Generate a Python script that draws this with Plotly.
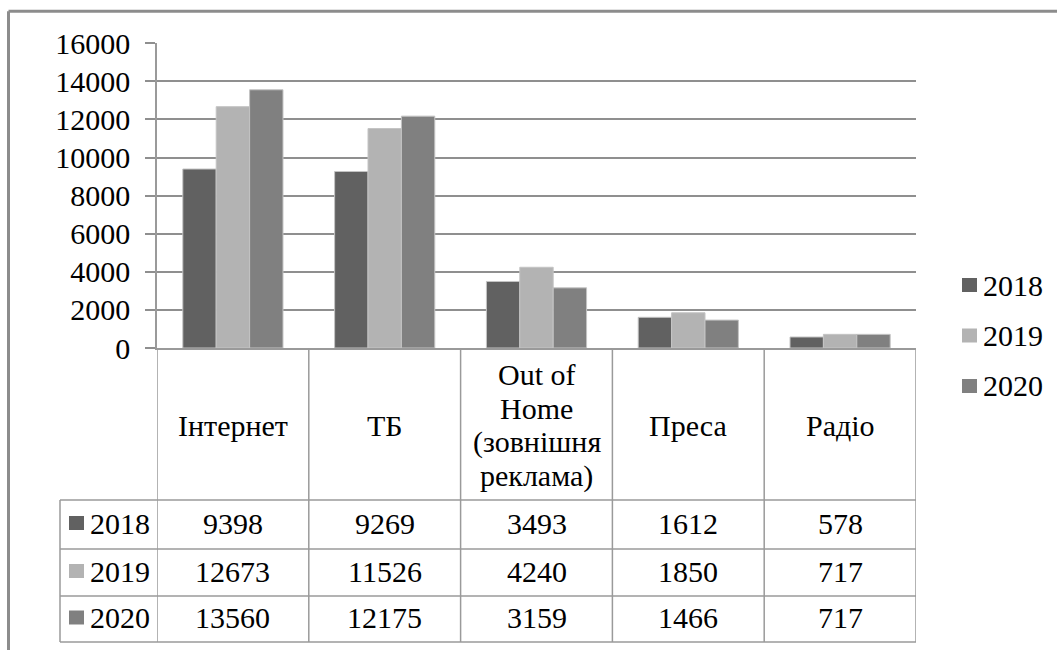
import plotly.graph_objects as go

# --- data -------------------------------------------------------------
categories = ["Інтернет", "ТБ", "Out of Home (зовнішня реклама)", "Преса", "Радіо"]
header_labels = ["Інтернет", "ТБ", "Out of<br>Home<br>(зовнішня<br>реклама)", "Преса", "Радіо"]
years = ["2018", "2019", "2020"]
values_2018 = [9398, 9269, 3493, 1612, 578]
values_2019 = [12673, 11526, 4240, 1850, 717]
values_2020 = [13560, 12175, 3159, 1466, 717]
series = [values_2018, values_2019, values_2020]
colors = ["#616161", "#b3b3b3", "#808080"]
y_ticks = [0, 2000, 4000, 6000, 8000, 10000, 12000, 14000, 16000]

# --- page geometry (pixels) --------------------------------------------
W, H = 1057, 650
FONT = "Liberation Serif"
FS = 30
LINE = "#9a9a9a"


def px(x):
    return x / W


def py(y):
    return 1 - y / H


def txt(size=FS):
    return dict(family=FONT, size=size, color="black")


plot_left, plot_right = 157, 916
plot_top, plot_bottom = 43.3, 348
header_bottom = 500
row_edges = [500, 549, 596, 642]
table_left = 60

fig = go.Figure()
for name, vals, col in zip(years, series, colors):
    fig.add_trace(go.Bar(
        x=categories, y=vals, name=name,
        marker=dict(color=col, line=dict(color="#c4c4c4", width=1)),
        showlegend=False,
    ))

shapes = []

# outer chart border (top and left edges visible)
shapes.append(dict(type="line", xref="paper", yref="paper",
                   x0=px(8.5), x1=px(W + 5), y0=py(11.3), y1=py(11.3),
                   line=dict(color="#8c8c8c", width=3)))
shapes.append(dict(type="line", xref="paper", yref="paper",
                   x0=px(8.5), x1=px(8.5), y0=py(11.3), y1=py(H + 5),
                   line=dict(color="#8c8c8c", width=3)))

# data table: vertical separators at category boundaries
for i in range(len(categories) + 1):
    shapes.append(dict(type="line", xref="x", yref="paper",
                       x0=i - 0.5, x1=i - 0.5, y0=py(plot_bottom), y1=py(row_edges[-1]),
                       line=dict(color=LINE, width=1.5)))
# legend-key column left edge
shapes.append(dict(type="line", xref="paper", yref="paper",
                   x0=px(table_left), x1=px(table_left), y0=py(row_edges[0]), y1=py(row_edges[-1]),
                   line=dict(color=LINE, width=1.5)))
# horizontal row lines
for y in row_edges:
    shapes.append(dict(type="line", xref="paper", yref="paper",
                       x0=px(table_left), x1=px(plot_right), y0=py(y), y1=py(y),
                       line=dict(color=LINE, width=1.5)))

fig.update_layout(
    width=W, height=H,
    margin=dict(l=0, r=0, t=0, b=0, autoexpand=False),
    paper_bgcolor="white", plot_bgcolor="white",
    barmode="group", bargap=0.34, bargroupgap=0,
    shapes=shapes,
    xaxis=dict(domain=[px(plot_left), px(plot_right)], range=[-0.5, len(categories) - 0.5],
               type="category", showticklabels=False, showgrid=False, automargin=False,
               showline=True, linecolor=LINE, linewidth=1.5, zeroline=False, ticks=""),
    yaxis=dict(domain=[py(plot_bottom), py(plot_top)], range=[0, 16000],
               tickvals=y_ticks, ticktext=[str(t) for t in y_ticks], automargin=False,
               showgrid=True, gridcolor="#8f8f8f", gridwidth=1.5,
               showline=True, linecolor=LINE, linewidth=1.5,
               ticks="outside", ticklen=10, tickcolor="#8f8f8f", tickwidth=1.5,
               ticklabelstandoff=9, zeroline=False, tickfont=txt()),
)

# header row category labels (line by line)
header_center = (plot_bottom + header_bottom) / 2 + 1
line_gap = 34
for i, lab in enumerate(header_labels):
    parts = lab.split("<br>")
    n = len(parts)
    for k, part in enumerate(parts):
        yc = header_center + (k - (n - 1) / 2) * line_gap
        fig.add_annotation(xref="x", yref="paper", x=i, y=py(yc), text=part, showarrow=False,
                           xanchor="center", yanchor="middle", font=txt())

# table body rows: legend key, series name and one value per category
for r, (name, vals, col) in enumerate(zip(years, series, colors)):
    yc = (row_edges[r] + row_edges[r + 1]) / 2 - 1.5
    fig.add_shape(type="rect", xref="paper", yref="paper",
                  x0=px(69), x1=px(84), y0=py(yc - 7), y1=py(yc + 7),
                  fillcolor=col, line=dict(width=0))
    fig.add_annotation(xref="paper", yref="paper", x=px(88), y=py(yc), text=name,
                       showarrow=False, xanchor="left", yanchor="middle", font=txt())
    for i, v in enumerate(vals):
        fig.add_annotation(xref="x", yref="paper", x=i, y=py(yc), text=str(v),
                           showarrow=False, xanchor="center", yanchor="middle", font=txt())

# legend on the right
for r, (name, col) in enumerate(zip(years, colors)):
    yc = 285 + r * 50.5
    fig.add_shape(type="rect", xref="paper", yref="paper",
                  x0=px(962), x1=px(977), y0=py(yc - 7), y1=py(yc + 7),
                  fillcolor=col, line=dict(width=0))
    fig.add_annotation(xref="paper", yref="paper", x=px(981), y=py(yc), text=name,
                       showarrow=False, xanchor="left", yanchor="middle", font=txt())

fig.write_html("out.html")
